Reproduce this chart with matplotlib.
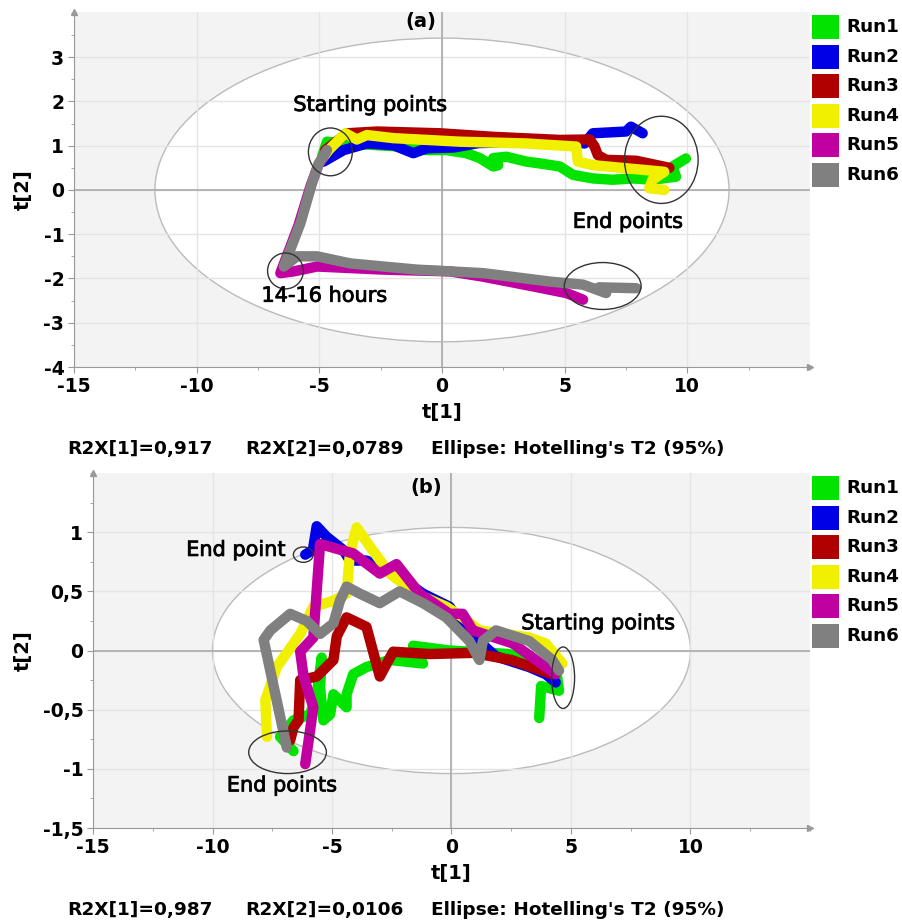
import numpy as np
import matplotlib
matplotlib.use('Agg')
import matplotlib.pyplot as plt
import matplotlib.patheffects as pe
from matplotlib.patches import Ellipse, Rectangle

runs = ['Run1', 'Run2', 'Run3', 'Run4', 'Run5', 'Run6']
run_colors = ['#00e400', '#0000e6', '#b00000', '#f0f000', '#c000a0', '#808080']

# (a) score trajectories, t[1] / t[2]
a_x = {
    'Run1': [-4.89, -4.69, -3.87, -2.93, -1.71, -0.62, 0.19, 1.0, 1.54, 2.09, 2.29, 2.09, 2.63, 3.44, 3.98, 4.8, 5.34, 6.15, 6.96, 7.78, 8.58, 9.54, 9.4, 9.94],
    'Run2': [-4.83, -4.01, -3.06, -1.98, -1.17, -0.62, 0.5, 1.5, 3.44, 5.5, 5.81, 6.15, 7.5, 7.7, 8.18],
    'Run3': [-4.76, -3.87, -2.65, -0.08, 2.09, 4.8, 6.02, 6.22, 6.35, 6.69, 7.91, 9.27],
    'Run4': [-5.03, -4.62, -3.94, -3.47, -3.06, -1.98, 0.73, 3.44, 5.47, 5.54, 6.15, 7.5, 9.06, 8.58, 8.45, 9.06],
    'Run5': [-4.75, -5.05, -5.35, -5.85, -6.59, -6.04, -5.09, -2.38, 0.33, 1.68, 3.72, 5.07, 5.75],
    'Run6': [-4.69, -5.02, -5.3, -5.77, -6.45, -5.91, -5.09, -3.74, -1.03, 1.68, 4.39, 5.75, 6.69, 6.4, 7.92],
}
a_y = {
    'Run1': [0.75, 1.09, 1.05, 1.02, 0.98, 0.9, 0.9, 0.83, 0.72, 0.53, 0.56, 0.72, 0.75, 0.64, 0.6, 0.53, 0.34, 0.26, 0.23, 0.26, 0.23, 0.3, 0.53, 0.71],
    'Run2': [0.64, 0.9, 1.05, 1.01, 0.83, 0.94, 0.96, 1.06, 1.08, 1.08, 1.05, 1.28, 1.32, 1.43, 1.28],
    'Run3': [0.9, 1.28, 1.32, 1.28, 1.2, 1.13, 1.14, 0.98, 0.79, 0.68, 0.66, 0.5],
    'Run4': [0.6, 0.9, 1.28, 1.14, 1.24, 1.17, 1.09, 1.05, 0.98, 0.64, 0.56, 0.49, 0.41, 0.23, 0.04, 0.0],
    'Run5': [0.85, 0.55, 0.1, -0.8, -1.88, -1.84, -1.73, -1.8, -1.84, -1.96, -2.18, -2.33, -2.48],
    'Run6': [0.9, 0.6, 0.15, -0.75, -1.73, -1.5, -1.5, -1.66, -1.8, -1.88, -2.07, -2.14, -2.33, -2.2, -2.22],
}

# (b) score trajectories
b_x = {
    'Run1': [3.67, 3.75, 4.5, 4.4, 3.5, 2.42, -0.08, -1.61, -1.19, -2.58, -3.56, -4.11, -4.39, -4.39, -4.94, -5.08, -5.36, -5.5, -5.43, -5.64, -5.92, -6.61, -7.17, -6.61],
    'Run2': [4.36, 3.94, 3.25, 1.86, 0.47, -0.08, -1.19, -2.58, -3.56, -4.25, -4.53, -5.22, -5.64, -5.8, -6.12],
    'Run3': [4.22, 2.5, 0.89, -0.92, -2.44, -3.0, -3.56, -4.39, -4.8, -4.94, -5.64, -6.33, -6.4, -6.61, -6.75],
    'Run4': [4.64, 3.94, 3.25, 1.17, 0.47, -0.22, -1.47, -2.58, -3.42, -3.97, -4.25, -4.39, -4.94, -5.78, -6.33, -7.31, -7.79, -7.72],
    'Run5': [4.36, 2.56, 0.89, 0.47, -0.08, -1.33, -2.3, -3.0, -4.11, -5.5, -5.78, -6.33, -6.19, -5.78, -6.12],
    'Run6': [4.5, 4.22, 3.25, 1.86, 1.31, 1.17, 0.75, -0.22, -1.19, -2.17, -3.0, -3.83, -4.39, -4.67, -4.94, -5.5, -6.06, -6.75, -7.58, -7.86, -6.89],
}
b_y = {
    'Run1': [-0.57, -0.3, -0.34, -0.2, -0.12, -0.03, 0.0, 0.04, -0.11, -0.08, -0.14, -0.2, -0.37, -0.48, -0.37, -0.54, -0.59, -0.31, -0.06, -0.37, -0.54, -0.59, -0.73, -0.85],
    'Run2': [-0.27, -0.2, -0.14, -0.05, 0.2, 0.37, 0.48, 0.68, 0.76, 0.76, 0.85, 0.96, 1.05, 0.85, 0.81],
    'Run3': [-0.2, -0.08, -0.02, -0.03, -0.01, -0.22, 0.2, 0.28, 0.12, -0.08, -0.22, -0.25, -0.59, -0.65, -0.76],
    'Run4': [-0.11, 0.06, 0.11, 0.17, 0.28, 0.37, 0.48, 0.65, 0.88, 1.04, 0.82, 0.48, 0.42, 0.37, 0.14, -0.14, -0.42, -0.73],
    'Run5': [-0.2, 0.06, 0.17, 0.31, 0.31, 0.48, 0.73, 0.65, 0.82, 0.9, 0.11, -0.01, -0.22, -0.48, -0.96],
    'Run6': [-0.17, -0.08, 0.08, 0.17, 0.08, -0.08, 0.08, 0.28, 0.4, 0.5, 0.4, 0.48, 0.54, 0.42, 0.23, 0.14, 0.25, 0.31, 0.17, 0.09, -0.82],
}

a_xticks = [-15, -10, -5, 0, 5, 10]
a_yticks = [-4, -3, -2, -1, 0, 1, 2, 3]
b_yticks = [-1.5, -1, -0.5, 0, 0.5, 1]
a_footer = ['R2X[1]=0,917', 'R2X[2]=0,0789', "Ellipse: Hotelling's T2 (95%)"]
b_footer = ['R2X[1]=0,987', 'R2X[2]=0,0106', "Ellipse: Hotelling's T2 (95%)"]

W, H = 903, 922
fig = plt.figure(figsize=(W / 100, H / 100), dpi=100)

# slightly heavier than regular, like the original annotation font
semi = [pe.withStroke(linewidth=0.6, foreground='#111111')]


def fx(px):
    return px / W


def fy(py):
    return 1 - py / H


def comma(v):
    return ('%g' % v).replace('.', ',')


def setup_axes(ax, ylim, yticks, yminor, hotelling):
    ax.set_facecolor('#f3f3f3')
    ax.set_xlim(-15, 15)
    ax.set_ylim(*ylim)
    ax.set_xticks(a_xticks)
    ax.set_xticklabels([str(t) for t in a_xticks], fontsize=13.5, fontweight='bold')
    ax.set_yticks(yticks)
    ax.set_yticklabels([comma(t) for t in yticks], fontsize=13.5, fontweight='bold')
    ax.set_xticks(np.arange(-15, 15.1, 2.5), minor=True)
    ax.set_yticks(yminor, minor=True)
    ax.tick_params(which='major', length=4, color='#999999', pad=3)
    ax.tick_params(which='minor', length=2.5, color='#999999')
    ax.grid(True, which='major', color='#e4e4e4', lw=1)
    ax.set_axisbelow(True)
    for s in ['top', 'right']:
        ax.spines[s].set_visible(False)
    for s in ['left', 'bottom']:
        ax.spines[s].set_color('#999999')
    ax.plot(1, 0, '>', color='#999999', ms=5, transform=ax.transAxes, clip_on=False)
    ax.plot(0, 1, '^', color='#999999', ms=5, transform=ax.transAxes, clip_on=False)
    ax.axhline(0, color='#aaaaaa', lw=1.2, zorder=0.6)
    ax.axvline(0, color='#aaaaaa', lw=1.2, zorder=0.6)
    ax.add_patch(Ellipse((0, 0), 2 * hotelling[0], 2 * hotelling[1], facecolor='white',
                         edgecolor='#bbbbbb', lw=1, zorder=0.3))
    ax.set_xlabel('t[1]', fontsize=14, fontweight='bold', labelpad=5)
    ax.set_ylabel('t[2]', fontsize=14, fontweight='bold')


def draw_runs(ax, xs, ys, lw):
    for name, c in zip(runs, run_colors):
        ax.plot(xs[name], ys[name], color=c, lw=lw, solid_capstyle='round',
                solid_joinstyle='round', zorder=3)


def legend(top):
    for i, (name, c) in enumerate(zip(runs, run_colors)):
        y0 = top + i * 29.6
        fig.add_artist(Rectangle((fx(812), fy(y0 + 24)), 27 / W, 24 / H,
                                 facecolor=c, edgecolor='none', transform=fig.transFigure))
        fig.text(fx(846), fy(y0 + 12), name, fontsize=13.2, fontweight='bold', va='center')


def footer(py, texts):
    for t, px in zip(texts, [67, 245, 431]):
        fig.text(fx(px), fy(py), t, fontsize=13.3, fontweight='bold', va='center')


def ring(ax, cx, cy, w, h):
    ax.add_patch(Ellipse((cx, cy), w, h, facecolor='none', edgecolor='#333333', lw=1, zorder=4))


def note(ax, x, y, s):
    ax.text(x, y, s, fontsize=15, va='center', path_effects=semi, zorder=5)


# ---- panel (a)
ax1 = fig.add_axes([fx(74), fy(367), (810 - 74) / W, (367 - 12) / H])
setup_axes(ax1, (-4, 4.02), a_yticks, np.arange(-4, 4.01, 0.5), (11.7, 3.43))
draw_runs(ax1, a_x, a_y, 7.5)
ring(ax1, -4.55, 0.86, 1.79, 1.08)
ring(ax1, 8.94, 0.68, 3.0, 1.97)
ring(ax1, 6.55, -2.17, 3.13, 1.06)
ring(ax1, -6.38, -1.83, 1.46, 0.81)
note(ax1, -6.06, 1.92, 'Starting points')
note(ax1, 5.33, -0.72, 'End points')
note(ax1, -7.36, -2.39, '14-16 hours')
ax1.text(-0.85, 3.8, '(a)', fontsize=14, fontweight='bold', ha='center', va='center')
ax1.yaxis.set_label_coords(-0.056, 0.5)
legend(15)
footer(449, a_footer)

# ---- panel (b)
ax2 = fig.add_axes([fx(93), fy(828), (810 - 93) / W, (828 - 473) / H])
setup_axes(ax2, (-1.5, 1.5), b_yticks, np.arange(-1.5, 1.51, 0.25), (10, 1.04))
draw_runs(ax2, b_x, b_y, 7.5)
ring(ax2, -6.2, 0.81, 0.83, 0.13)
ring(ax2, -6.86, -0.86, 3.25, 0.36)
ring(ax2, 4.67, -0.23, 0.96, 0.52)
note(ax2, -11.1, 0.85, 'End point')
note(ax2, -9.4, -1.14, 'End points')
note(ax2, 2.92, 0.23, 'Starting points')
ax2.text(-1.04, 1.38, '(b)', fontsize=14, fontweight='bold', ha='center', va='center')
ax2.yaxis.set_label_coords(-0.084, 0.5)
legend(476)
footer(910, b_footer)

fig.savefig('out.png', dpi=100)
